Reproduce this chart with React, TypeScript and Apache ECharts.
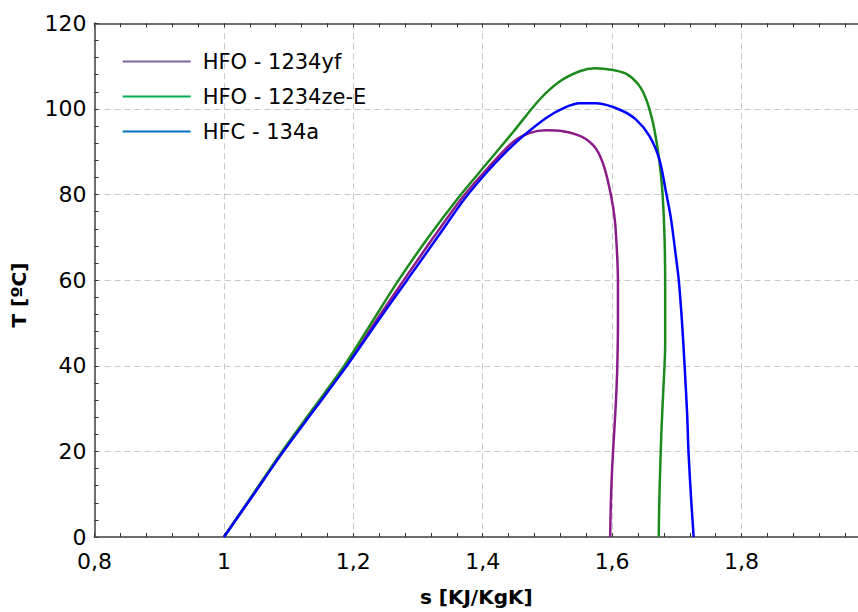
import React, { useEffect, useRef } from "react";
import * as echarts from "echarts";

const seriesNames = ["HFO - 1234yf", "HFO - 1234ze-E", "HFC - 134a"];
const curveColors = ["#8a1c8a", "#1d8a1d", "#0000ff"];
const legendColors = ["#8064a2", "#00b050", "#0070c0"];

const yfS = [1.0, 1.046, 1.091, 1.14, 1.189, 1.233, 1.278, 1.324, 1.368, 1.408, 1.447, 1.473, 1.498, 1.524, 1.545, 1.56, 1.576, 1.588, 1.598, 1.604, 1.607, 1.609, 1.609, 1.608, 1.606, 1.603, 1.6, 1.598, 1.597];
const yfT = [0, 10, 20, 30, 40, 50, 60, 70, 79.2, 86.2, 92.3, 94.4, 95.0, 94.8, 94.0, 92.9, 90.5, 86.3, 80, 74.3, 68, 60, 50, 40, 32, 24, 16, 8, 0];

const zeS = [1.0, 1.045, 1.09, 1.138, 1.186, 1.228, 1.27, 1.316, 1.362, 1.405, 1.447, 1.488, 1.52, 1.55, 1.573, 1.601, 1.622, 1.64, 1.652, 1.662, 1.669, 1.674, 1.678, 1.681, 1.682, 1.682, 1.679, 1.676, 1.673, 1.672];
const zeT = [0, 10, 20, 30, 40, 50, 60, 70, 79.2, 87, 94.6, 102.2, 106.5, 108.8, 109.5, 109.1, 108.2, 105.8, 102.5, 97.5, 92, 86.5, 80, 70, 58, 45, 34, 24, 9, 0];

const r134S = [1.0, 1.046, 1.092, 1.141, 1.19, 1.236, 1.283, 1.33, 1.372, 1.408, 1.435, 1.462, 1.498, 1.525, 1.55, 1.576, 1.612, 1.637, 1.658, 1.673, 1.684, 1.691, 1.699, 1.703, 1.708, 1.712, 1.716, 1.718, 1.722, 1.726];
const r134T = [0, 10, 20, 30, 40, 50, 60, 70, 79, 85.5, 89.8, 93.6, 97.9, 100.2, 101.3, 101.3, 99.8, 97.5, 93.6, 88.2, 80, 74.3, 65, 60, 50.2, 40, 28.5, 20, 9.1, 0];

const xMin = 0.8;
const xMax = 1.98;
const xStep = 0.2;
const yMin = 0;
const yMax = 120;
const yStep = 20;

const FONT = "'DejaVu Sans', Verdana, sans-serif";

export default function App() {
  const ref = useRef<HTMLDivElement>(null);
  useEffect(() => {
    if (!ref.current) return;
    const chart = echarts.init(ref.current, undefined, { renderer: "svg" });
    const allS = [yfS, zeS, r134S];
    const allT = [yfT, zeT, r134T];
    const fmt = (v: number) => String(Math.round(v * 10) / 10).replace(".", ",");
    const tickCommon = {
      axisTick: { show: true, inside: true, length: 4, lineStyle: { color: "#333", width: 1 } },
      minorTick: { show: true, splitNumber: 5, length: 4, lineStyle: { color: "#333", width: 1 } },
      axisLine: { show: true, lineStyle: { color: "#6e6e6e", width: 2 } },
    };
    chart.setOption({
      animation: false,
      backgroundColor: "#ffffff",
      grid: { left: 94.5, top: 23.3, right: 0, bottom: 67.7, containLabel: false },
      legend: {
        show: true,
        orient: "vertical",
        left: 122.7,
        top: 51,
        padding: 0,
        itemWidth: 68,
        itemHeight: 14,
        itemGap: 14,
        textStyle: { fontFamily: FONT, fontSize: 21, color: "#000", lineHeight: 20, padding: [0, 0, 0, 7] },
        data: seriesNames.map((n, i) => ({
          name: n,
          icon: "path://M0,5.9 L68,5.9 L68,8.1 L0,8.1 Z",
          itemStyle: { color: legendColors[i] },
        })),
      },
      xAxis: [
        {
          type: "value",
          min: xMin,
          max: xMax,
          interval: xStep,
          position: "bottom",
          name: "s [KJ/KgK]",
          nameLocation: "middle",
          nameGap: 50,
          nameTextStyle: { fontFamily: FONT, fontSize: 20, fontWeight: "bold", color: "#000" },
          axisLabel: { fontFamily: FONT, fontSize: 22, color: "#000", margin: 13, formatter: fmt, showMaxLabel: false },
          splitLine: { show: true, lineStyle: { color: "#c8c8c8", width: 1, type: [6, 4] } },
          ...tickCommon,
        },
        {
          type: "value",
          min: xMin,
          max: xMax,
          interval: xStep,
          position: "top",
          axisLabel: { show: false },
          splitLine: { show: false },
          ...tickCommon,
        },
      ],
      yAxis: [
        {
          type: "value",
          min: yMin,
          max: yMax,
          interval: yStep,
          position: "left",
          name: "T [ºC]",
          nameLocation: "middle",
          nameGap: 66,
          nameRotate: 90,
          nameTextStyle: { fontFamily: FONT, fontSize: 20, fontWeight: "bold", color: "#000", padding: [0, 30, 0, 0] },
          axisLabel: { fontFamily: FONT, fontSize: 22, color: "#000", margin: 8 },
          splitLine: { show: true, lineStyle: { color: "#c8c8c8", width: 1, type: [6, 4] } },
          ...tickCommon,
        },
      ],
      series: seriesNames.map((n, i) => ({
        name: n,
        type: "line",
        xAxisIndex: 0,
        yAxisIndex: 0,
        symbol: "none",
        smooth: 0.3,
        lineStyle: { color: curveColors[i], width: 2.5 },
        itemStyle: { color: curveColors[i] },
        data: allS[i].map((s, k) => [s, allT[i][k]]),
      })),
    });
    return () => chart.dispose();
  }, []);
  return <div ref={ref} style={{ position: "fixed", left: 0, top: 0, width: 858, height: 612 }} />;
}
